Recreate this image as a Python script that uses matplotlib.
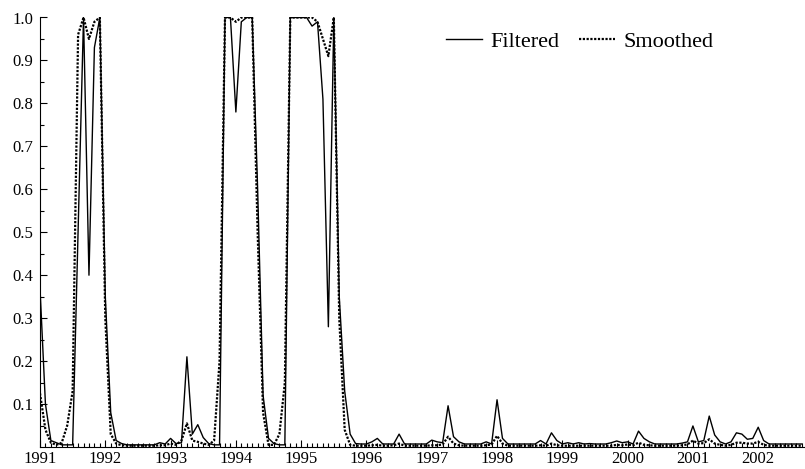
import matplotlib
matplotlib.use("Agg")
import matplotlib.pyplot as plt
from matplotlib.ticker import FixedLocator, MultipleLocator
import numpy as np

plt.rcParams['font.family'] = ['Liberation Serif', 'DejaVu Serif']

# Monthly data starting 1991M1
filtered = [
    0.37, 0.10, 0.015, 0.010, 0.005, 0.005, 0.005, 0.50, 1.00, 0.40, 0.93, 1.00,   # 1991
    0.35, 0.08, 0.015, 0.008, 0.005, 0.005, 0.005, 0.005, 0.005, 0.005, 0.010, 0.007,  # 1992
    0.020, 0.008, 0.010, 0.21, 0.030, 0.052, 0.022, 0.008, 0.005, 0.005, 1.00, 1.00,   # 1993
    0.78, 0.99, 1.00, 1.00, 0.60, 0.12, 0.020, 0.008, 0.005, 0.005, 1.00, 1.00,        # 1994
    1.00, 1.00, 0.98, 0.99, 0.81, 0.28, 1.00, 0.35, 0.13, 0.030, 0.008, 0.007,         # 1995
    0.007, 0.012, 0.020, 0.007, 0.007, 0.007, 0.030, 0.007, 0.007, 0.007, 0.007, 0.007,  # 1996
    0.016, 0.012, 0.010, 0.096, 0.024, 0.012, 0.007, 0.007, 0.007, 0.007, 0.012, 0.007,  # 1997
    0.11, 0.020, 0.007, 0.007, 0.007, 0.007, 0.007, 0.007, 0.015, 0.007, 0.033, 0.015,  # 1998
    0.007, 0.010, 0.007, 0.010, 0.007, 0.008, 0.007, 0.007, 0.007, 0.010, 0.014, 0.010,  # 1999
    0.012, 0.007, 0.037, 0.020, 0.012, 0.007, 0.007, 0.007, 0.007, 0.007, 0.009, 0.012,  # 2000
    0.049, 0.012, 0.015, 0.072, 0.028, 0.012, 0.007, 0.012, 0.033, 0.030, 0.018, 0.020,  # 2001
    0.046, 0.015, 0.007, 0.007, 0.007, 0.007, 0.007, 0.007, 0.007,                       # 2002
]
smoothed = [
    0.125, 0.04, 0.010, 0.005, 0.010, 0.05, 0.13, 0.96, 1.00, 0.95, 0.99, 1.00,
    0.30, 0.03, 0.008, 0.004, 0.003, 0.003, 0.003, 0.003, 0.003, 0.003, 0.004, 0.004,
    0.008, 0.005, 0.015, 0.055, 0.015, 0.012, 0.008, 0.005, 0.015, 0.20, 1.00, 1.00,
    0.99, 1.00, 1.00, 1.00, 0.50, 0.08, 0.005, 0.005, 0.030, 0.15, 1.00, 1.00,
    1.00, 1.00, 1.00, 0.99, 0.95, 0.91, 1.00, 0.30, 0.04, 0.005, 0.003, 0.003,
    0.003, 0.004, 0.005, 0.003, 0.003, 0.004, 0.008, 0.003, 0.003, 0.003, 0.003, 0.003,
    0.004, 0.004, 0.006, 0.024, 0.008, 0.004, 0.003, 0.003, 0.003, 0.003, 0.004, 0.006,
    0.026, 0.008, 0.003, 0.003, 0.003, 0.003, 0.003, 0.003, 0.004, 0.003, 0.008, 0.004,
    0.003, 0.003, 0.003, 0.003, 0.003, 0.003, 0.003, 0.003, 0.003, 0.003, 0.005, 0.004,
    0.006, 0.004, 0.010, 0.005, 0.004, 0.003, 0.003, 0.003, 0.003, 0.003, 0.004, 0.006,
    0.015, 0.008, 0.009, 0.018, 0.008, 0.005, 0.003, 0.005, 0.010, 0.010, 0.008, 0.008,
    0.012, 0.005, 0.003, 0.003, 0.003, 0.003, 0.003, 0.003, 0.003,
]
start_year = 1991
year_ticks = list(range(1991, 2003))
y_ticks = [0.1, 0.2, 0.3, 0.4, 0.5, 0.6, 0.7, 0.8, 0.9, 1.0]

x = start_year + np.arange(len(filtered)) / 12.0

fig = plt.figure(figsize=(8.05, 4.69), dpi=100)
ax = fig.add_axes([40/805, 22/469, 765/805, (447-17.5)/469])

ax.plot(x, filtered, color='black', lw=1.0, label='Filtered')
ax.plot(x, smoothed, color='black', lw=1.6, ls=(0, (1, 0.7)), label='Smoothed')

ax.set_xlim(start_year, x[-1] + 0.05)
ax.set_ylim(0, 1.0)

ax.xaxis.set_major_locator(FixedLocator(year_ticks))
ax.set_xticklabels([str(y) for y in year_ticks])
ax.xaxis.set_minor_locator(MultipleLocator(1/12))
ax.yaxis.set_major_locator(FixedLocator(y_ticks))
ax.set_yticklabels([f"{v:.1f}" for v in y_ticks])
ax.yaxis.set_minor_locator(FixedLocator([0.05 + 0.1*i for i in range(10)]))

ax.tick_params(axis='both', which='major', direction='in', length=5, width=0.8, labelsize=12)
ax.tick_params(axis='y', which='major', pad=5)
ax.tick_params(axis='x', which='major', pad=3)
ax.tick_params(axis='both', which='minor', direction='in', length=3, width=0.8)
ax.spines['top'].set_visible(False)
ax.spines['right'].set_visible(False)
for s in ['left', 'bottom']:
    ax.spines[s].set_linewidth(0.8)

leg = ax.legend(ncol=2, frameon=False, fontsize=16, handlelength=1.6, columnspacing=0.9,
                handletextpad=0.4, loc='center left', borderpad=0, borderaxespad=0,
                bbox_to_anchor=(446/805, 1 - 42/469), bbox_transform=fig.transFigure)

fig.savefig('out.png', dpi=100)
